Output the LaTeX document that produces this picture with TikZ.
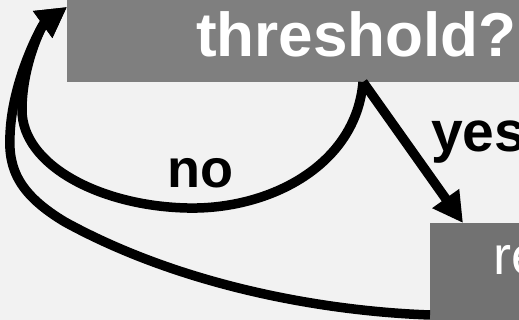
\documentclass[tikz,border=0pt]{standalone}
\usepackage{fontspec}
\setmainfont{Liberation Sans}
\usetikzlibrary{arrows.meta}
\definecolor{bgc}{RGB}{242,242,242}
\definecolor{boxa}{RGB}{127,127,127}
\definecolor{boxb}{RGB}{114,114,114}
\begin{document}
\begin{tikzpicture}[x=1pt,y=-1pt,
  conn/.style={line width=9.5pt, draw=black, line cap=butt},
  head/.style={-{Triangle[length=30pt,width=31pt]}},
  boxtop/.style={fill=boxa, draw=none, inner sep=0pt, minimum width=582pt, minimum height=110pt, anchor=south west},
  boxbot/.style={fill=boxb, draw=none, inner sep=0pt, minimum width=300pt, minimum height=150pt, anchor=north west},
  boxtxt/.style={inner sep=0pt, anchor=base west, text=white},
  lbl/.style={inner sep=0pt, anchor=base west, text=black, font=\fontsize{57}{60}\selectfont\bfseries}
]
\useasboundingbox (0,0) rectangle (519,320);
\clip (0,0) rectangle (519,320);
\fill[bgc] (0,0) rectangle (519,320);

\node[boxtop] (top) at (67,82) {};
\node[boxbot] (bot) at (430,223) {};
\node[boxtxt, font=\fontsize{62}{66}\selectfont\bfseries] (toptxt) at (196,57) {threshold?};
\node[boxtxt, font=\fontsize{54}{60}\selectfont] (bottxt) at (493,275) {re};

\coordinate (topout) at ([xshift=296pt]top.south west);
\coordinate (topin) at ([yshift=75pt]top.south west);
\coordinate (botin) at ([xshift=33pt]bot.north west);
\coordinate (botout) at ([yshift=-92pt]bot.north west);

% yes
\draw[conn, head] (topout) -- (botin);
\node[lbl] (yes) at (431,152) {yes};

% no
\draw[conn, head] (topout) .. controls (356,165) and (270,210) .. (187,208)
  .. controls (100,206) and (22,165) .. (22,110)
  .. controls (22,65) and (42,25) .. (topin);
\node[lbl, font=\fontsize{54}{60}\selectfont\bfseries] (no) at (167,188) {no};

% loop back from lower box
\draw[conn, head] (botout) .. controls (320,311) and (180,285) .. (65,222)
  .. controls (20,195) and (8,170) .. (10,135)
  .. controls (12,80) and (42,25) .. (topin);
\end{tikzpicture}
\end{document}
